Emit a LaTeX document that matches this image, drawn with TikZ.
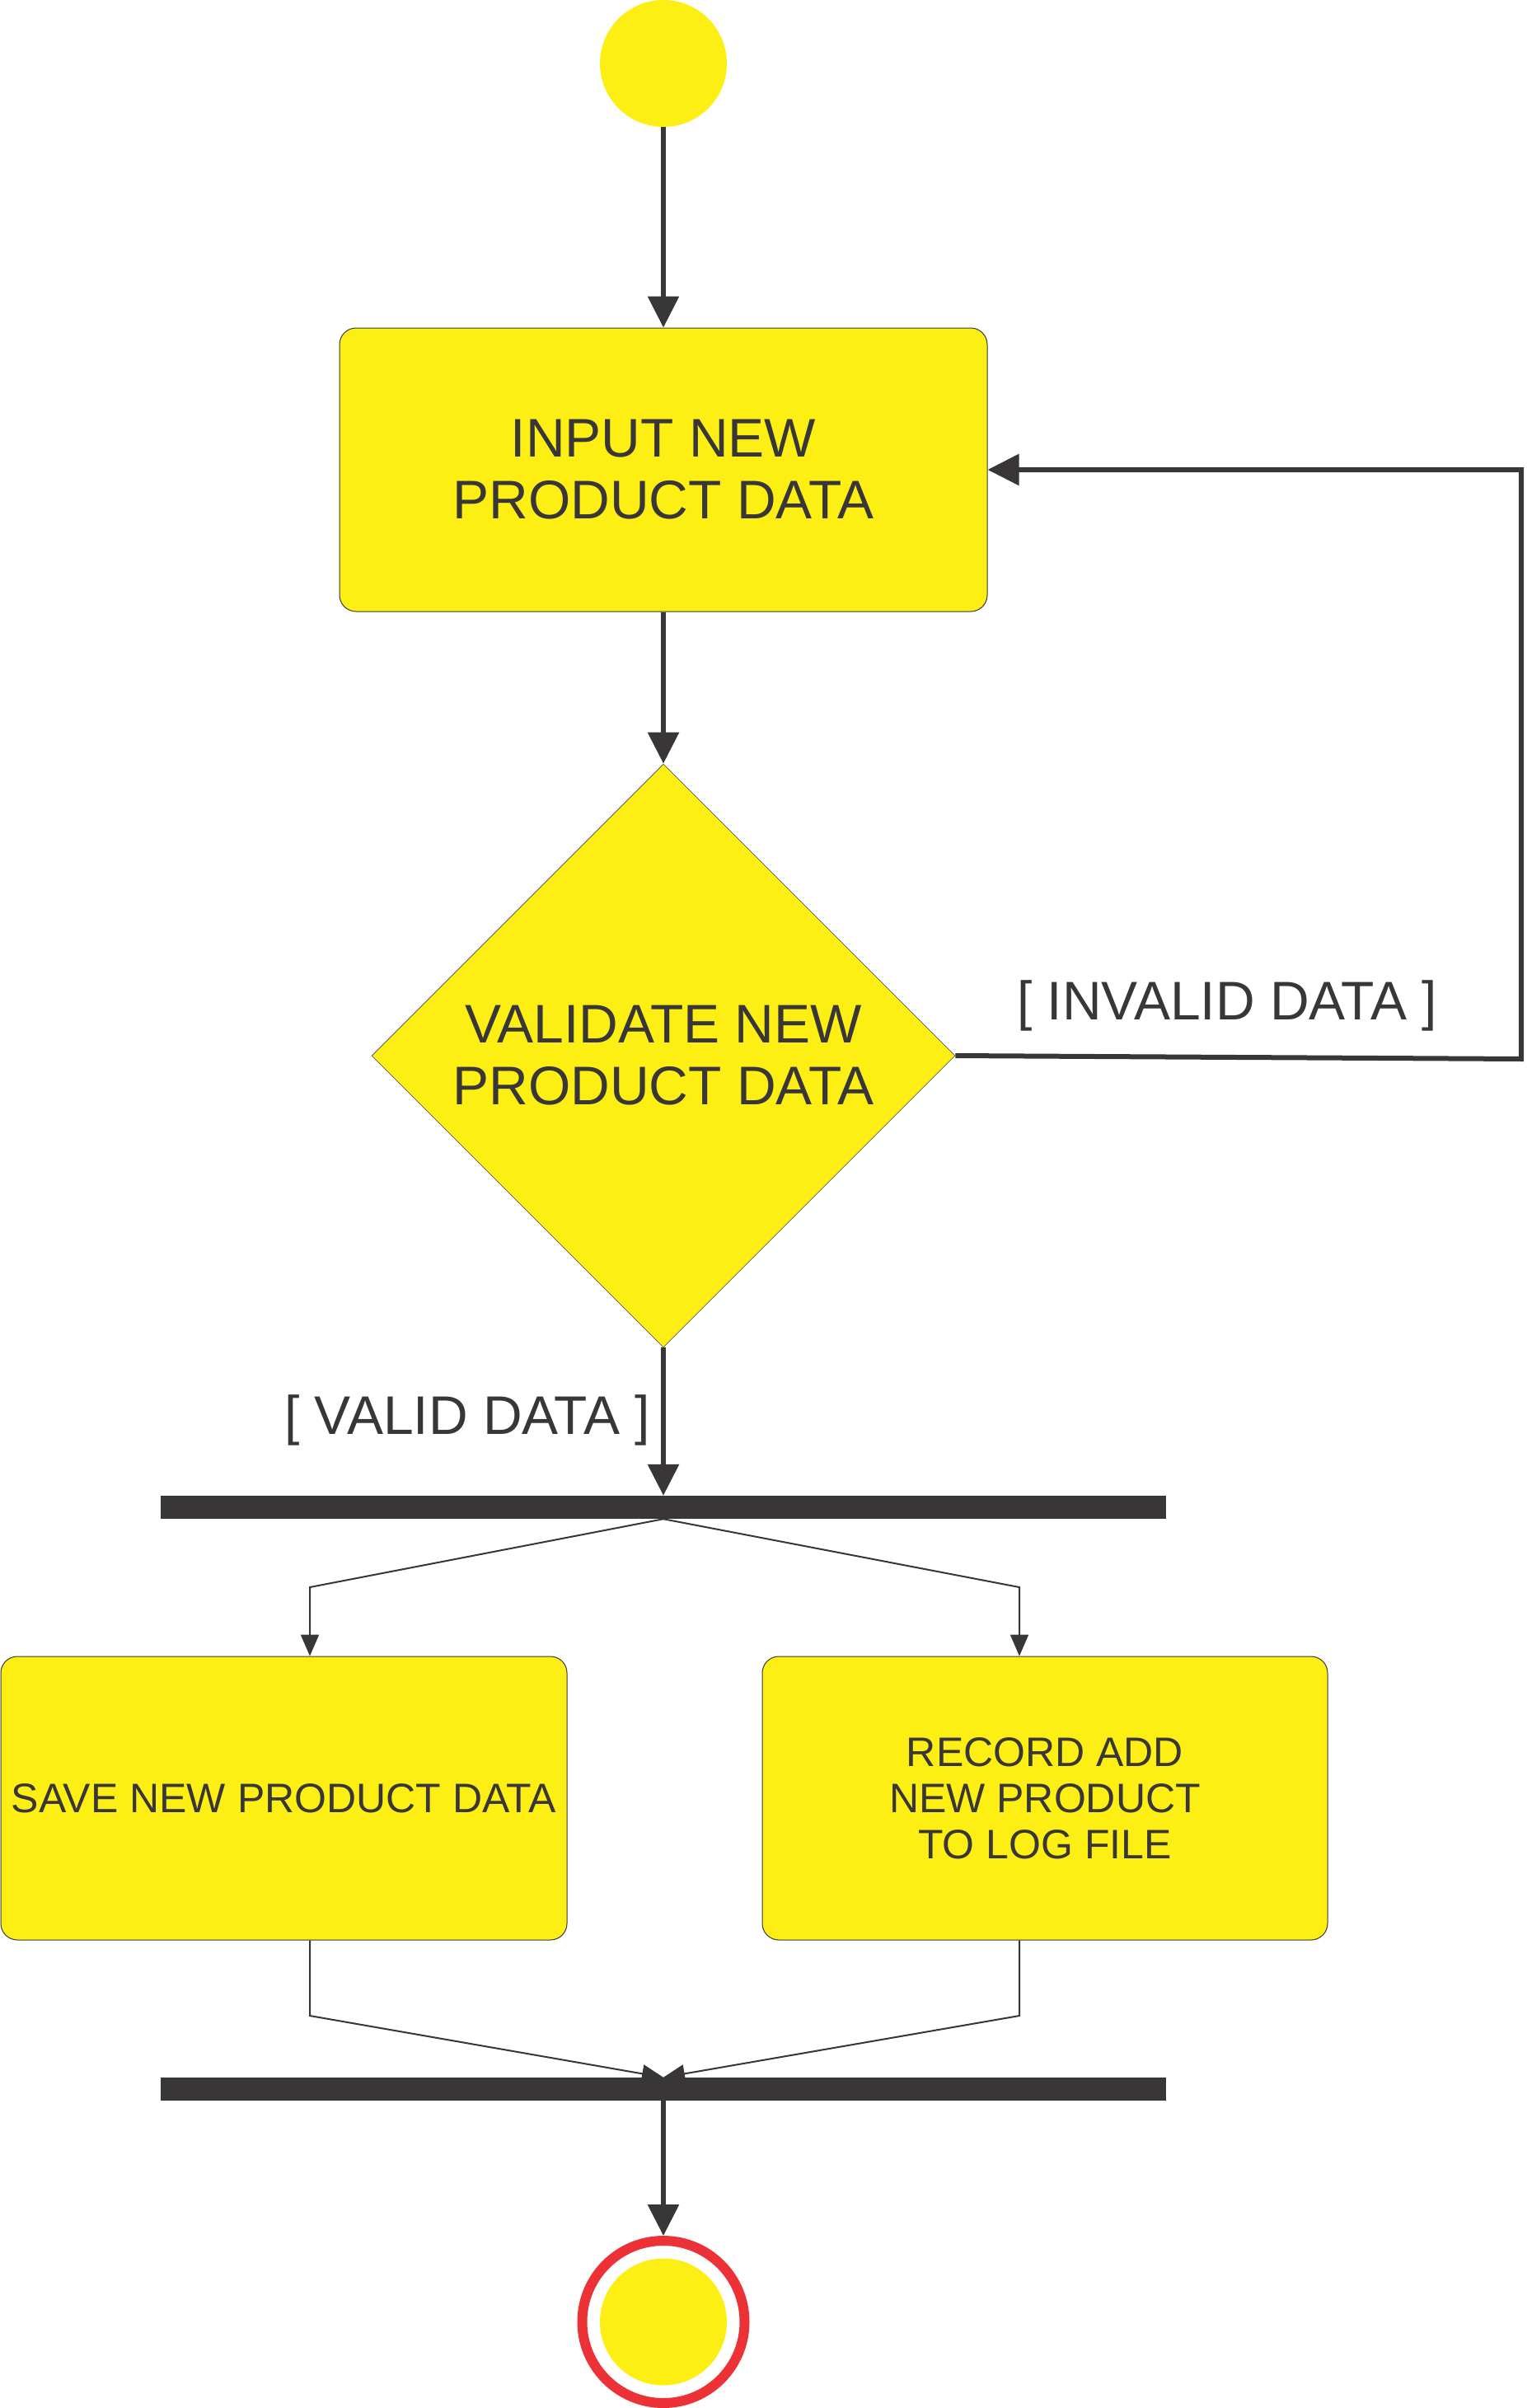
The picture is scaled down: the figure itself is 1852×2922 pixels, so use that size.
\documentclass[tikz,border=0pt]{standalone}
\usepackage{fontspec}
\setmainfont{Liberation Sans}
\usetikzlibrary{shapes.geometric,arrows.meta,calc}
\definecolor{actyellow}{RGB}{253,239,20}
\definecolor{ink}{RGB}{56,54,55}
\definecolor{endred}{RGB}{236,50,55}
\begin{document}
\begin{tikzpicture}[x=1pt,y=-1pt,
  action/.style={rectangle, rounded corners=20pt, draw=ink, line width=1pt,
    fill=actyellow, text=ink, align=center, inner sep=0pt},
  bigtext/.style={font=\fontsize{66}{75}\selectfont},
  smalltext/.style={font=\fontsize{50}{56}\selectfont},
  bar/.style={rectangle, fill=ink, minimum width=1220pt, minimum height=28pt, inner sep=0pt},
  flow/.style={draw=ink, line width=6pt, line join=miter, -{Triangle[length=38pt,width=37pt]}},
  thinflow/.style={draw=ink, line width=2pt, -{Triangle[length=26pt,width=22pt]}},
  guard/.style={text=ink, font=\fontsize{66}{75}\selectfont, inner sep=0pt}
]
\useasboundingbox (0,0) rectangle (1852,2922);

% initial node
\node[circle, fill=actyellow, minimum size=154pt, inner sep=0pt] (start) at (805,77) {};

% input activity
\node[action, bigtext, minimum width=786pt, minimum height=344pt] (input) at (805,570)
  {INPUT NEW\\PRODUCT DATA};

% decision
\node[diamond, fill=actyellow, draw=ink!80, line width=0.8pt, minimum width=708pt,
  minimum height=708pt, inner sep=0pt, text=ink, align=center, bigtext] (validate) at (805,1281)
  {VALIDATE NEW\\PRODUCT DATA};

% fork bar
\node[bar] (fork) at (805,1829) {};

% parallel activities
\node[action, smalltext, minimum width=687pt, minimum height=344pt] (save) at (344.5,2182)
  {SAVE NEW PRODUCT DATA};
\node[action, smalltext, minimum width=686pt, minimum height=344pt] (record) at (1268,2182)
  {RECORD ADD\\NEW PRODUCT\\TO LOG FILE};

% join bar
\node[bar] (join) at (805,2535) {};

% final node
\node[circle, draw=endred, line width=12pt, minimum size=197pt, inner sep=0pt] (end) at (805,2817.5) {};
\node[circle, fill=actyellow, minimum size=154pt, inner sep=0pt] (endcore) at (end.center) {};

% guards
\node[guard, anchor=base west] (invalid) at (1234,1237) {[ INVALID DATA ]};
\node[guard, anchor=base west] (valid) at (345,1740) {[ VALID DATA ]};

% connectors
\draw[flow] (start.south) -- (input.north);
\draw[flow] (input.south) -- (validate.north);

\coordinate (loopbot) at (1846,1285);
\coordinate (looptop) at (1846,570);
\draw[flow] (validate.east) -- (loopbot) -- (looptop) -- (input.east);

\draw[flow] (validate.south) -- (fork.north);

\coordinate (fl) at (376,1926);
\coordinate (fr) at (1237,1926);
\draw[thinflow] (fork.south) -- (fl) -- (fl |- save.north);
\draw[thinflow] (fork.south) -- (fr) -- (fr |- record.north);

\coordinate (jl) at (376,2446);
\coordinate (jr) at (1237,2446);
\draw[thinflow] (jl |- save.south) -- (jl) -- (join.north);
\draw[thinflow] (jr |- record.south) -- (jr) -- (join.north);

\draw[flow] (join.south) -- (end.north);
\end{tikzpicture}
\end{document}
